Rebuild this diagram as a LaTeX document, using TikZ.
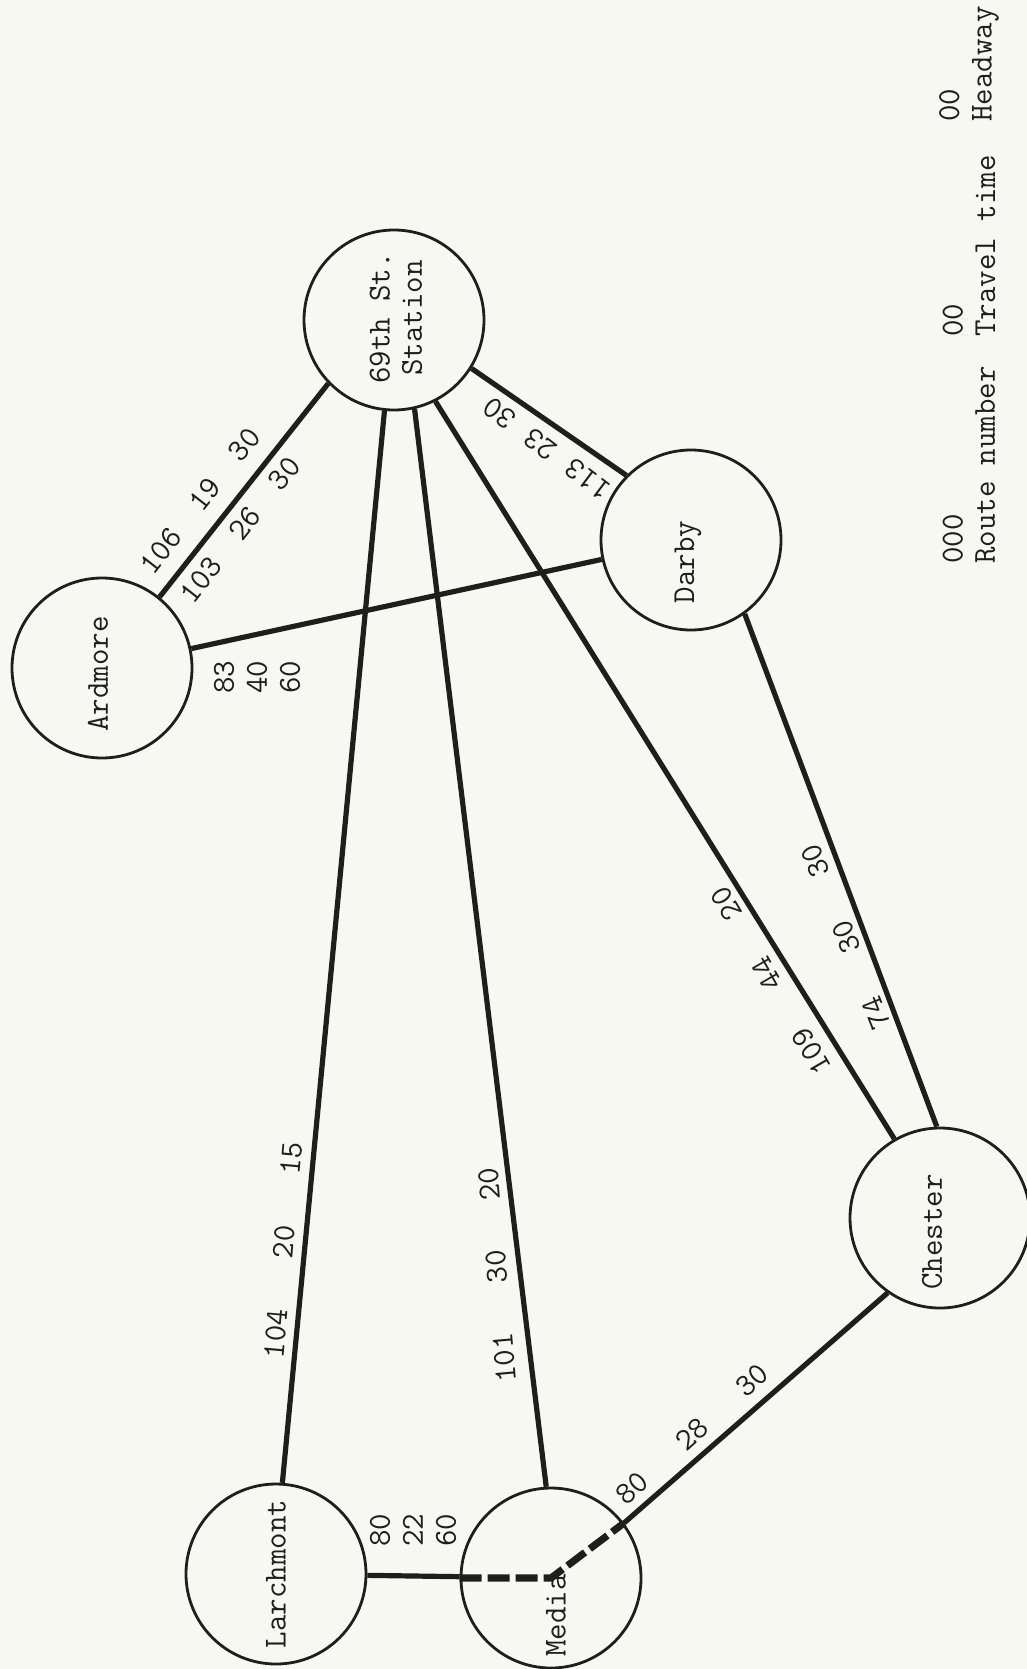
\documentclass[tikz,border=0pt]{standalone}
\usepackage{fontspec}
\definecolor{ink}{HTML}{1E1E1C}
\definecolor{paper}{HTML}{F8F8F2}
\usetikzlibrary{calc}

\begin{document}
\begin{tikzpicture}[x=0.5pt, y=-0.5pt, color=ink,
  station/.style={draw, circle, line width=1.4pt, minimum size=90pt, inner sep=0pt},
  stname/.style={font=\ttfamily\fontsize{16}{16.2}\selectfont, align=center, rotate=90, inner sep=0pt},
  num/.style={font=\ttfamily\fontsize{16}{16.5}\selectfont, inner sep=0pt},
  route/.style={line width=2.6pt},
  via/.style={line width=3.6pt, dash pattern=on 11pt off 3pt}]
  \path[use as bounding box, fill=paper] (0,0) rectangle (1027,1669);

  \node[station] (sixtynine) at (394,320) {};
  \node[station] (ardmore) at (102,668) {};
  \node[station] (darby) at (691,540) {};
  \node[station] (larch) at (276,1574) {};
  \node[station] (media) at (551,1578) {};
  \node[station] (chester) at (940,1218) {};

  \node[stname] (sixtyninetxt) at (396,318) {69th St.\\Station};
  \node[stname] (ardmoretxt) at (98,674) {Ardmore};
  \node[stname] (darbytxt) at (688,562) {Darby};
  \node[stname] (larchtxt) at (276,1574) {Larchmont};
  \node[stname, anchor=east] (mediatxt) at (556,1574) {Media};
  \node[stname] (chestertxt) at (932,1232) {Chester};

  \draw[route] (ardmore.51) -- (sixtynine.224);
  \draw[route] (ardmore) -- (darby);
  \draw[route] (sixtynine.328) -- (darby.135);
  \draw[route] (sixtynine.264) -- (larch.86);
  \draw[route] (sixtynine.283) -- (media.93);
  \draw[route] (sixtynine.297) -- (chester.120);
  \draw[route] (darby.-54) -- (chester.92);
  \draw[route] (larch) -- (media);
  \draw[via] (media.180) -- (media.center) -- (media.37);
  \draw[route] (media.37) -- (chester.235);

  \node[num, rotate=52] (a106) at (200,501) {106\hspace{15.5pt}19\hspace{15.5pt}30};
  \node[num, rotate=52] (a103) at (240,530) {103\hspace{15.5pt}26\hspace{15.5pt}30};
  \node[num, rotate=90, align=center] (a83) at (257,677) {83\\40\\60};
  \node[num, rotate=143] (d113) at (547,449) {113\hspace{9pt}23\hspace{9pt}30};
  \node[num, rotate=120] (c109) at (771,981) {109\hspace{24pt}44\hspace{24pt}20};
  \node[num, rotate=112] (c74) at (846,937) {74\hspace{24.5pt}30\hspace{24.5pt}30};
  \node[num, rotate=85] (l104) at (283,1250) {104\hspace{25.5pt}20\hspace{25.5pt}15};
  \node[num, rotate=95] (m101) at (497,1275) {101\hspace{25pt}30\hspace{25pt}20};
  \node[num, rotate=90, align=center] (l80) at (413,1530) {80\\22\\60};
  \node[num, rotate=42] (m80) at (692,1434) {80\hspace{24pt}28\hspace{24pt}30};

  \node[stname, align=left] (headkey) at (969,64) {00\\Headway};
  \node[stname, align=left] (travelkey) at (969,246) {00\\Travel time};
  \node[stname, align=left] (routekey) at (969,465) {000\\Route number};
\end{tikzpicture}
\end{document}
